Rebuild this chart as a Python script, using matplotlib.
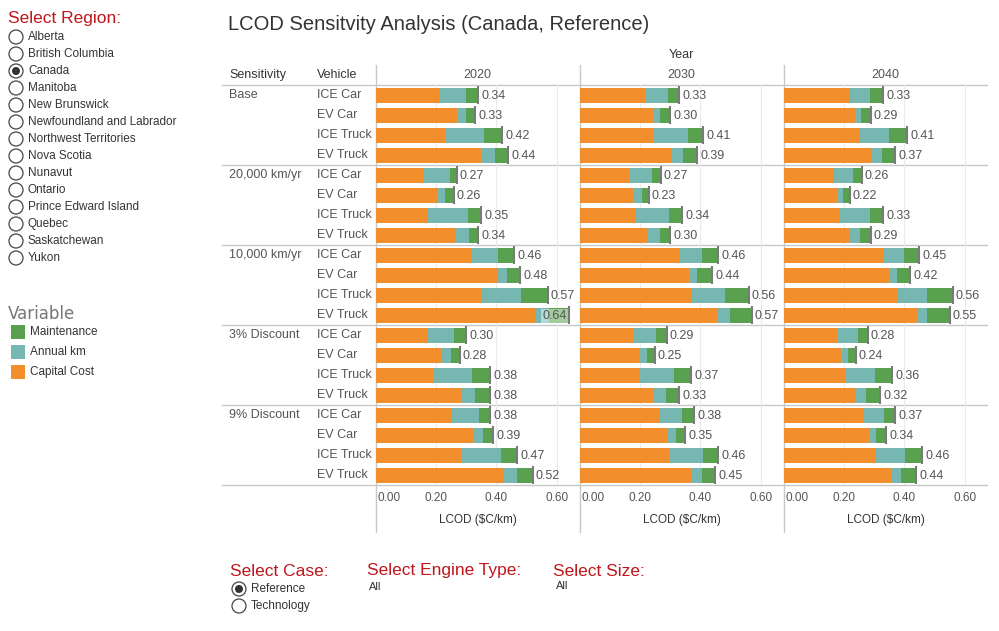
import matplotlib
matplotlib.use("Agg")
import matplotlib.pyplot as plt
from matplotlib.patches import Circle, Rectangle
import numpy as np

plt.rcParams["font.family"] = ["Liberation Sans", "DejaVu Sans"]

# ---- data -------------------------------------------------------------
years = ["2020", "2030", "2040"]
groups = ["Base", "20,000 km/yr", "10,000 km/yr", "3% Discount", "9% Discount"]
vehicles = ["ICE Car", "EV Car", "ICE Truck", "EV Truck"]
regions = ["Alberta", "British Columbia", "Canada", "Manitoba", "New Brunswick",
           "Newfoundland and Labrador", "Northwest Territories", "Nova Scotia",
           "Nunavut", "Ontario", "Prince Edward Island", "Quebec",
           "Saskatchewan", "Yukon"]
variables = ["Maintenance", "Annual km", "Capital Cost"]
cases = ["Reference", "Technology"]
x_ticks = [0.0, 0.2, 0.4, 0.6]

capital_2020 = [0.21, 0.27, 0.23, 0.35, 0.157, 0.205, 0.173, 0.264,
                0.316, 0.405, 0.349, 0.53, 0.171, 0.219, 0.19, 0.285,
                0.251, 0.326, 0.282, 0.424]
km_2020 = [0.09, 0.03, 0.13, 0.045, 0.09, 0.025, 0.133, 0.046,
           0.09, 0.03, 0.133, 0.045, 0.088, 0.03, 0.13, 0.044,
           0.09, 0.03, 0.133, 0.044]
maint_2020 = [0.04, 0.03, 0.06, 0.045, 0.023, 0.03, 0.044, 0.03,
              0.054, 0.045, 0.088, 0.065, 0.041, 0.031, 0.06, 0.051,
              0.039, 0.034, 0.055, 0.052]

capital_2030 = [0.219, 0.241, 0.247, 0.306, 0.162, 0.18, 0.183, 0.226,
                0.329, 0.362, 0.369, 0.458, 0.176, 0.195, 0.199, 0.246,
                0.267, 0.292, 0.295, 0.368]
km_2030 = [0.073, 0.025, 0.113, 0.036, 0.077, 0.026, 0.113, 0.04,
           0.076, 0.027, 0.113, 0.04, 0.076, 0.028, 0.113, 0.04,
           0.072, 0.027, 0.114, 0.037]
maint_2030 = [0.038, 0.034, 0.05, 0.048, 0.031, 0.024, 0.044, 0.034,
              0.055, 0.051, 0.078, 0.072, 0.038, 0.027, 0.058, 0.044,
              0.041, 0.031, 0.051, 0.045]

capital_2040 = [0.218, 0.237, 0.25, 0.291, 0.165, 0.177, 0.185, 0.218,
                0.332, 0.352, 0.377, 0.443, 0.179, 0.19, 0.203, 0.239,
                0.265, 0.283, 0.303, 0.355]
km_2040 = [0.068, 0.02, 0.099, 0.035, 0.064, 0.019, 0.1, 0.034,
           0.067, 0.023, 0.098, 0.032, 0.067, 0.022, 0.099, 0.033,
           0.067, 0.023, 0.099, 0.034]
maint_2040 = [0.044, 0.033, 0.061, 0.044, 0.031, 0.024, 0.045, 0.038,
              0.051, 0.045, 0.085, 0.075, 0.034, 0.028, 0.058, 0.048,
              0.038, 0.034, 0.058, 0.051]

capital = [capital_2020, capital_2030, capital_2040]
annual_km = [km_2020, km_2030, km_2040]
maintenance = [maint_2020, maint_2030, maint_2040]

# ---- style ------------------------------------------------------------
C_CAP = "#F28E2B"
C_KM = "#76B7B2"
C_MAINT = "#59A14F"
RED = "#C0161B"
TXT = "#333333"
GRAY = "#555555"
LINE = "#C8C8C8"

W, H = 999, 631
fig = plt.figure(figsize=(W / 100, H / 100), dpi=100)

# overlay in pixel coordinates for the dashboard furniture
ov = fig.add_axes([0, 0, 1, 1])
ov.set_xlim(0, W)
ov.set_ylim(H, 0)
ov.axis("off")


def radio(x, y, label, selected=False):
    ov.add_patch(Circle((x, y), 7, facecolor="white", edgecolor="#444444", lw=0.9))
    if selected:
        ov.add_patch(Circle((x, y), 4, facecolor="#333333", edgecolor="none"))
    ov.text(x + 12, y, label, fontsize=8.5, color=TXT, va="center", ha="left")


# left controls
ov.text(8, 19, "Select Region:", fontsize=12.5, color=RED, va="center")
for i, r in enumerate(regions):
    radio(16, 37 + 17 * i, r, selected=(r == "Canada"))

ov.text(8, 314, "Variable", fontsize=12, color="#777777", va="center",
        family=["DejaVu Sans"])
leg_colors = [C_MAINT, C_KM, C_CAP]
for i, (v, c) in enumerate(zip(variables, leg_colors)):
    y = 332 + 20 * i
    ov.add_patch(Rectangle((11, y - 7), 14, 14, facecolor=c, edgecolor="none"))
    ov.text(30, y, v, fontsize=8.5, color=TXT, va="center")

# bottom controls
ov.text(230, 571, "Select Case:", fontsize=12.5, color=RED, va="center")
for i, c in enumerate(cases):
    radio(239, 589 + 17 * i, c, selected=(i == 0))
ov.text(367, 571, "Select Engine Type:", fontsize=12.5, color=RED, va="center")
ov.text(369, 587, "All", fontsize=8, color=TXT, va="center")
ov.text(553, 571, "Select Size:", fontsize=12.5, color=RED, va="center")
ov.text(556, 586, "All", fontsize=8, color=TXT, va="center")

# title and headers
ov.text(228, 25, "LCOD Sensitvity Analysis (Canada, Reference)", fontsize=14.5,
        color=TXT, va="center")
ov.text(681, 55, "Year", fontsize=9, color=TXT, ha="center", va="center")
ov.text(229, 75, "Sensitivity", fontsize=9, color=TXT, va="center")
ov.text(317, 75, "Vehicle", fontsize=9, color=TXT, va="center")

row_h = 20
top = 85
n_rows = len(groups) * len(vehicles)
for g, grp in enumerate(groups):
    for v, veh in enumerate(vehicles):
        y = top + row_h * (g * len(vehicles) + v) + row_h / 2
        if v == 0:
            ov.text(229, y, grp, fontsize=9, color=GRAY, va="center")
        ov.text(317, y, veh, fontsize=9, color=GRAY, va="center")

for g in range(len(groups) + 1):
    y = top + g * len(vehicles) * row_h
    ov.plot([222, 987], [y, y], color=LINE, lw=1)

pane_x = [376, 580, 784]
pane_w = 203
px_per_unit = 301.0
for x0 in pane_x:
    ov.plot([x0 - 0.5, x0 - 0.5], [65, 532], color=LINE, lw=1)

# ---- panels -----------------------------------------------------------
xmax = pane_w / px_per_unit
for k, yr in enumerate(years):
    x0 = pane_x[k]
    ax = fig.add_axes([x0 / W, 1 - (top + n_rows * row_h) / H,
                       pane_w / W, n_rows * row_h / H])
    ax.patch.set_alpha(0)
    ax.set_xlim(0, xmax)
    ax.set_ylim(n_rows, 0)
    for s in ax.spines.values():
        s.set_visible(False)
    ax.set_yticks([])
    ax.set_xticks([])
    for t in x_ticks[1:]:
        ax.axvline(t, color="#EBEBEB", lw=0.8, zorder=0)

    cap = np.array(capital[k])
    km = np.array(annual_km[k])
    mt = np.array(maintenance[k])
    total = cap + km + mt
    yy = np.arange(n_rows) + 0.5
    ax.barh(yy, cap, height=0.75, color=C_CAP, zorder=2)
    ax.barh(yy, km, left=cap, height=0.75, color=C_KM, zorder=2)
    ax.barh(yy, mt, left=cap + km, height=0.75, color=C_MAINT, zorder=2)
    for y, t in zip(yy, total):
        ax.plot([t, t], [y - 0.46, y + 0.46], color="#7A7A7A", lw=1.5, zorder=3,
                solid_capstyle="butt")
        lab = f"{t:.2f}"
        if t + 0.085 > xmax:
            ax.text(t - 0.006, y + 0.05, lab, fontsize=9, color=GRAY, ha="right",
                    va="center", zorder=4,
                    bbox=dict(facecolor="white", alpha=0.45, edgecolor="none", pad=1))
        else:
            ax.text(t + 0.009, y + 0.05, lab, fontsize=9, color=GRAY, ha="left",
                    va="center", zorder=4)

    # header, tick labels and axis title in pixel space
    ov.text(x0 + pane_w / 2, 75, yr, fontsize=9, color=GRAY, ha="center", va="center")
    for t in x_ticks:
        px = x0 + t * px_per_unit
        ha = "left" if t == 0 else "center"
        ov.text(px + (1 if t == 0 else 0), 498, f"{t:.2f}", fontsize=8.5,
                color=GRAY, ha=ha, va="center")
    ov.text(x0 + pane_w / 2, 520, "LCOD ($C/km)", fontsize=8.5, color=TXT,
            ha="center", va="center")

fig.savefig("out.png", dpi=100)
